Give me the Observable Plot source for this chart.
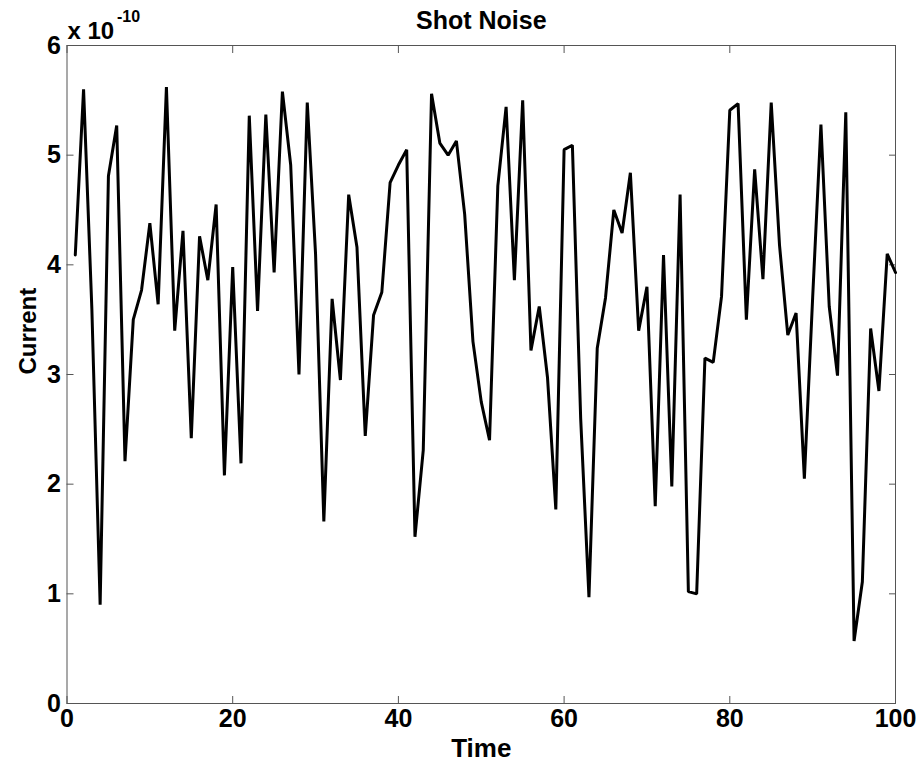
<!DOCTYPE html>
<html>
<head>
<meta charset="utf-8">
<script src="https://cdn.jsdelivr.net/npm/d3@7"></script>
<script src="https://cdn.jsdelivr.net/npm/@observablehq/plot@0.6"></script>
<style>
  html, body { margin: 0; padding: 0; background: #fff; }
  #chart svg { display: block; }
</style>
</head>
<body>
<div id="chart"></div>
<script>
// Current values, in units of 1e-10 (exponent shown above the y axis)
const current = [
  4.09, 5.60, 3.60, 0.90, 4.81, 5.27, 2.21, 3.50, 3.77, 4.38,
  3.64, 5.62, 3.40, 4.31, 2.42, 4.26, 3.86, 4.55, 2.08, 3.98,
  2.19, 5.36, 3.58, 5.37, 3.93, 5.58, 4.91, 3.00, 5.48, 4.10,
  1.66, 3.69, 2.95, 4.64, 4.16, 2.44, 3.54, 3.75, 4.75, 4.91,
  5.05, 1.52, 2.31, 5.56, 5.11, 5.00, 5.13, 4.46, 3.30, 2.75,
  2.40, 4.72, 5.44, 3.86, 5.50, 3.22, 3.62, 2.97, 1.77, 5.05,
  5.09, 2.60, 0.97, 3.24, 3.70, 4.50, 4.29, 4.84, 3.40, 3.80,
  1.80, 4.09, 1.98, 4.64, 1.02, 1.00, 3.15, 3.11, 3.71, 5.41,
  5.47, 3.50, 4.87, 3.87, 5.48, 4.18, 3.36, 3.56, 2.05, 3.70,
  5.28, 3.62, 2.99, 5.39, 0.57, 1.11, 3.42, 2.85, 4.10, 3.93
];
const time = current.map((_, i) => i + 1);
const xTicks = [0, 20, 40, 60, 80, 100];
const yTicks = [0, 1, 2, 3, 4, 5, 6];
const titleText = "Shot Noise";
const xLabel = "Time";
const yLabel = "Current";
const exponentBase = "x 10";
const exponentPower = "-10";

const data = time.map((t, i) => ({t, v: current[i]}));
const font = "'Liberation Sans', Arial, Helvetica, sans-serif";
const tickColor = "#555";

const chart = Plot.plot({
  width: 921,
  height: 765,
  marginLeft: 66.5,
  marginRight: 26,
  marginTop: 45,
  marginBottom: 62,
  style: {fontFamily: font, fontWeight: "bold", fontSize: "24px", color: "#000", background: "#fff"},
  x: {domain: [0, 100]},
  y: {domain: [0, 6]},
  marks: [
    Plot.frame({stroke: tickColor, strokeWidth: 1}),
    // inward ticks on all four sides (outward ticks shifted inside)
    Plot.axisX(xTicks, {anchor: "bottom", tickSize: 7, dy: -7, text: null, stroke: tickColor, label: null}),
    Plot.axisX(xTicks, {anchor: "top", tickSize: 7, dy: 7, text: null, stroke: tickColor, label: null}),
    Plot.axisY(yTicks, {anchor: "left", tickSize: 7, dx: 7, text: null, stroke: tickColor, label: null}),
    Plot.axisY(yTicks, {anchor: "right", tickSize: 7, dx: -7, text: null, stroke: tickColor, label: null}),
    // tick labels
    Plot.axisX(xTicks, {anchor: "bottom", tickSize: 0, tickPadding: 6, fontSize: 25, fontWeight: "bold", label: null, tickFormat: d => String(d)}),
    Plot.axisY(yTicks, {anchor: "left", tickSize: 0, tickPadding: 6, fontSize: 25, fontWeight: "bold", label: null, tickFormat: d => String(d)}),
    Plot.line(data, {x: "t", y: "v", stroke: "#000", strokeWidth: 3, strokeLinejoin: "miter"}),
    Plot.text([titleText], {frameAnchor: "top", dy: -25, fontSize: 25, fontWeight: "bold", lineAnchor: "middle"}),
    Plot.text([xLabel], {frameAnchor: "bottom", dy: 45, fontSize: 26, fontWeight: "bold", lineAnchor: "middle"}),
    Plot.text([yLabel], {frameAnchor: "left", dx: -38.5, rotate: -90, fontSize: 24, fontWeight: "bold", lineAnchor: "middle"}),
    Plot.text([exponentBase], {frameAnchor: "top-left", dx: 0.5, dy: -14, textAnchor: "start", lineAnchor: "middle", fontSize: 24, fontWeight: "bold"}),
    Plot.text([exponentPower], {frameAnchor: "top-left", dx: 50, dy: -29, textAnchor: "start", lineAnchor: "middle", fontSize: 16, fontWeight: "bold"})
  ]
});
document.getElementById("chart").appendChild(chart);
</script>
</body>
</html>
